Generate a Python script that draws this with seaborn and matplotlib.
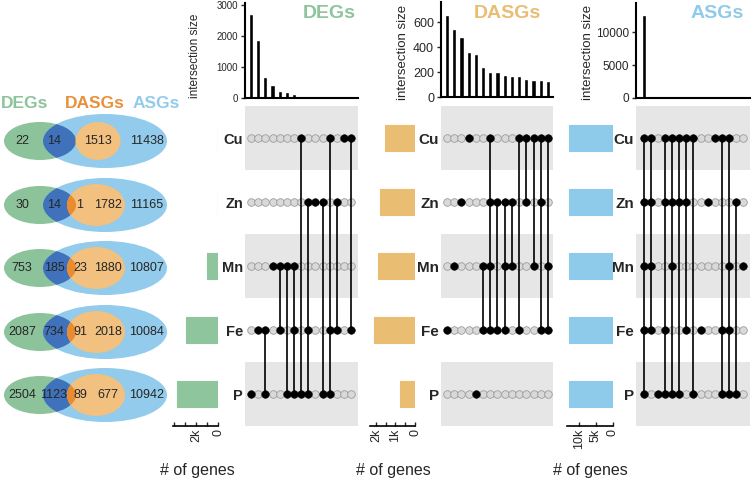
import matplotlib
matplotlib.use("Agg")
import matplotlib.pyplot as plt
from matplotlib.patches import Ellipse
import seaborn as sns
import pandas as pd

# -----------------------------
# Data
# -----------------------------
elements = ["Cu", "Zn", "Mn", "Fe", "P"]

# venn counts, one entry per element row
venn_deg_only = [22, 30, 753, 2087, 2504]
venn_deg_asg = [14, 14, 185, 734, 1123]
venn_deg_dasg = [None, 1, 23, 91, 89]
venn_dasg = [1513, 1782, 1880, 2018, 677]
venn_asg_only = [11438, 11165, 10807, 10084, 10942]

# DEGs upset
deg_sizes = [2700, 1850, 680, 420, 230, 190, 130, 22, 18, 15, 12, 10, 8, 6, 4]
deg_sets = [["P"], ["Fe"], ["Fe", "P"], ["Mn"], ["Mn", "Fe"], ["Mn", "P"],
            ["Mn", "Fe", "P"], ["Cu", "P"], ["Zn", "Fe", "P"], ["Zn"], ["Zn", "P"],
            ["Cu", "Fe", "P"], ["Zn", "Fe"], ["Cu"], ["Cu", "Fe"]]
deg_set_sizes = [36, 45, 961, 2912, 3716]

# DASGs upset
dasg_sizes = [660, 550, 480, 360, 343, 238, 203, 203, 174, 166, 165, 142, 136, 134, 128]
dasg_sets = [["Fe"], ["Mn"], ["Zn"], ["Cu"], ["P"], ["Mn", "Fe"], ["Cu", "Zn", "Mn", "Fe"],
             ["Zn", "Fe"], ["Zn", "Mn", "Fe"], ["Zn", "Mn"], ["Cu", "Fe"], ["Cu", "Zn"],
             ["Cu", "Mn"], ["Cu", "Zn", "Fe"], ["Cu", "Mn", "Fe"]]
dasg_set_sizes = [1513, 1783, 1903, 2109, 766]

# ASGs upset
asg_sizes = [12600, 150, 40, 30, 25, 20, 15, 12, 10, 9, 8, 6, 5, 4, 3]
asg_sets = [["Cu", "Zn", "Mn", "Fe", "P"], ["Cu", "Zn", "Mn", "Fe"], ["P"],
            ["Cu", "Zn", "Fe", "P"], ["Cu", "Zn", "Mn", "P"], ["Cu", "Zn", "P"],
            ["Cu", "Zn", "Fe"], ["Cu", "P"], ["Fe"], ["Zn"], ["Cu"], ["Cu", "Fe", "P"],
            ["Cu", "Mn", "Fe", "P"], ["Zn", "P"], ["Mn"]]
asg_set_sizes = [12965, 12962, 12895, 12927, 12831]

# -----------------------------
# Style
# -----------------------------
sns.set_style("ticks")
plt.rcParams["font.family"] = ["Liberation Sans", "DejaVu Sans"]

GREEN = "#8fc59d"
TAN = "#e9bd72"
BLUE = "#8ecbea"
VENN_GREEN = "#8cc39a"
VENN_BLUE = "#92cbeb"
VENN_ORANGE = "#f2c07f"
DARK_BLUE = "#3f72ba"
DARK_ORANGE = "#ea8b2e"
BAND = "#e6e6e6"

W, H = 752, 482
fig = plt.figure(figsize=(W / 100, H / 100), dpi=100)


def px_axes(x0, y0, x1, y1):
    return fig.add_axes([x0 / W, 1 - y1 / H, (x1 - x0) / W, (y1 - y0) / H])


bg = fig.add_axes([0, 0, 1, 1], zorder=-5)
bg.set_xlim(0, W)
bg.set_ylim(H, 0)
bg.axis("off")

# -----------------------------
# Venn diagrams
# -----------------------------
venn_y = [141, 205, 268, 332, 395]
for i, y in enumerate(venn_y):
    green = Ellipse((40, y), 72, 38, fc=VENN_GREEN, ec="none", zorder=1)
    blue = Ellipse((105, y), 124, 54, fc=VENN_BLUE, ec="none", zorder=2)
    if i == 0:
        orange = Ellipse((98, y), 45, 38, fc=VENN_ORANGE, ec="none", zorder=4)
    else:
        orange = Ellipse((96, y), 58, 42, fc=VENN_ORANGE, ec="none", zorder=4)
    bg.add_patch(green)
    bg.add_patch(blue)
    bg.add_patch(orange)
    dblue = Ellipse((40, y), 72, 38, fc=DARK_BLUE, ec="none", zorder=3)
    bg.add_patch(dblue)
    dblue.set_clip_path(blue)
    dorange = Ellipse((40, y), 72, 38, fc=DARK_ORANGE, ec="none", zorder=5)
    bg.add_patch(dorange)
    dorange.set_clip_path(orange)

    kw = dict(ha="center", va="center", fontsize=9, zorder=6)
    bg.text(22, y, str(venn_deg_only[i]), **kw)
    bg.text(54, y, str(venn_deg_asg[i]), **kw)
    if venn_deg_dasg[i] is not None:
        bg.text(80, y, str(venn_deg_dasg[i]), **kw)
    bg.text(98 if i == 0 else 108, y, str(venn_dasg[i]), **kw)
    bg.text(147, y, str(venn_asg_only[i]), **kw)

bg.text(25, 104, "DEGs", color=VENN_GREEN, fontsize=12.5, fontweight="bold", ha="center", va="center")
bg.text(95, 104, "DASGs", color="#e8903a", fontsize=12.5, fontweight="bold", ha="center", va="center")
bg.text(156, 104, "ASGs", color=VENN_BLUE, fontsize=12.5, fontweight="bold", ha="center", va="center")

# -----------------------------
# UpSet panels
# -----------------------------
panels = [
    dict(name="DEGs", color=GREEN, sizes=deg_sizes, sets=deg_sets, set_sizes=deg_set_sizes,
         bar_box=(245, 3, 358, 98), xlim=(-0.85, 14.95), ymax=3050,
         yticks=[0, 1000, 2000, 3000], tick_fs=7, label_fs=8.5, label_xy=(201, 56),
         set_box=(173, 106, 218, 426), set_max=4100,
         set_ticks=[0, 1000, 2000, 3000, 4000], set_labels=["0", "", "2k", "", ""],
         title_x=329, genes_x=197, row_fs=10.5),
    dict(name="DASGs", color=TAN, sizes=dasg_sizes, sets=dasg_sets, set_sizes=dasg_set_sizes,
         bar_box=(441, 2, 553, 97), xlim=(-0.83, 14.7), ymax=763,
         yticks=[0, 200, 400, 600], tick_fs=9, label_fs=9.5, label_xy=(409, 52),
         set_box=(370, 106, 415, 426), set_max=2300,
         set_ticks=[0, 500, 1000, 1500, 2000], set_labels=["0", "", "1k", "", "2k"],
         title_x=507, genes_x=393, row_fs=11),
    dict(name="ASGs", color=BLUE, sizes=asg_sizes, sets=asg_sets, set_sizes=asg_set_sizes,
         bar_box=(636, 3, 750, 98), xlim=(-1.13, 14.99), ymax=14500,
         yticks=[0, 5000, 10000], tick_fs=8.5, label_fs=9.5, label_xy=(594, 52),
         set_box=(567, 106, 613, 426), set_max=13500,
         set_ticks=[0, 5000, 10000], set_labels=["0", "5k", "10k"],
         title_x=717, genes_x=590, row_fs=11),
]

for p in panels:
    n = len(p["sizes"])
    x0, y0, x1, y1 = p["bar_box"]

    # intersection size bars
    ax_bar = px_axes(x0, y0, x1, y1)
    df = pd.DataFrame({"col": list(range(n)), "size": p["sizes"]})
    sns.barplot(data=df, x="col", y="size", color="black", saturation=1,
                width=0.58, errorbar=None, ax=ax_bar)
    ax_bar.set_xlim(*p["xlim"])
    ax_bar.set_ylim(0, p["ymax"])
    ax_bar.set_xticks([])
    ax_bar.set_xlabel("")
    ax_bar.set_yticks(p["yticks"])
    ax_bar.tick_params(axis="y", length=3, width=1, pad=2, labelsize=p["tick_fs"])
    ax_bar.set_ylabel("intersection size", fontsize=p["label_fs"])
    ax_bar.yaxis.set_label_coords(p["label_xy"][0], p["label_xy"][1], transform=bg.transData)
    sns.despine(ax=ax_bar)
    for s in ["left", "bottom"]:
        ax_bar.spines[s].set_linewidth(1.5)
        ax_bar.spines[s].set_color("black")
    ax_bar.patch.set_alpha(0)

    # matrix
    ax_m = px_axes(x0, 106, x1, 426)
    ax_m.set_xlim(*p["xlim"])
    ax_m.set_ylim(4.5, -0.5)
    for r in [0, 2, 4]:
        ax_m.axhspan(r - 0.5, r + 0.5, color=BAND, lw=0, zorder=0)
    rows = []
    for c, members in enumerate(p["sets"]):
        for r, el in enumerate(elements):
            rows.append((c, r, el in members))
    grid = pd.DataFrame(rows, columns=["col", "row", "filled"])
    sns.scatterplot(data=grid[~grid["filled"]], x="col", y="row", color="#d9d9d9",
                    edgecolor="#9c9c9c", linewidth=0.6, s=30, legend=False, zorder=2, ax=ax_m)
    for c, members in enumerate(p["sets"]):
        idx = [elements.index(m) for m in members]
        if len(idx) > 1:
            ax_m.vlines(c, min(idx), max(idx), color="black", lw=1.2, zorder=3)
    sns.scatterplot(data=grid[grid["filled"]], x="col", y="row", color="black",
                    edgecolor="black", linewidth=0.4, s=30, legend=False, zorder=4, ax=ax_m)
    ax_m.set_xlim(*p["xlim"])
    ax_m.set_ylim(4.5, -0.5)
    ax_m.set_xticks([])
    ax_m.set_xlabel("")
    ax_m.set_ylabel("")
    ax_m.set_yticks(range(len(elements)))
    ax_m.set_yticklabels(elements, fontweight="bold", fontsize=p["row_fs"])
    ax_m.tick_params(axis="y", length=0, pad=1.5)
    for s in ax_m.spines.values():
        s.set_visible(False)
    ax_m.patch.set_alpha(0)

    # set size bars
    sx0, sy0, sx1, sy1 = p["set_box"]
    ax_s = px_axes(sx0, sy0, sx1, sy1)
    df_s = pd.DataFrame({"element": elements, "size": p["set_sizes"]})
    sns.barplot(data=df_s, x="size", y="element", orient="h", color=p["color"],
                saturation=1, width=0.4, errorbar=None, edgecolor=p["color"],
                linewidth=0.8, ax=ax_s)
    ax_s.set_ylim(4.5, -0.5)
    ax_s.set_xlim(p["set_max"], 0)
    ax_s.set_yticks([])
    ax_s.set_ylabel("")
    ax_s.set_xlabel("")
    ax_s.set_xticks(p["set_ticks"])
    ax_s.set_xticklabels(p["set_labels"], rotation=90, fontsize=9)
    ax_s.tick_params(axis="x", direction="in", length=3, width=1, pad=2)
    for s in ["left", "top", "right"]:
        ax_s.spines[s].set_visible(False)
    ax_s.spines["bottom"].set_linewidth(1.2)
    ax_s.spines["bottom"].set_color("black")
    ax_s.patch.set_alpha(0)

    # texts
    bg.text(p["title_x"], 14, p["name"], color=p["color"], fontsize=14,
            fontweight="bold", ha="center", va="center")
    bg.text(p["genes_x"], 470, "# of genes", fontsize=11.5, ha="center", va="center")

fig.savefig("out.png", dpi=100)
